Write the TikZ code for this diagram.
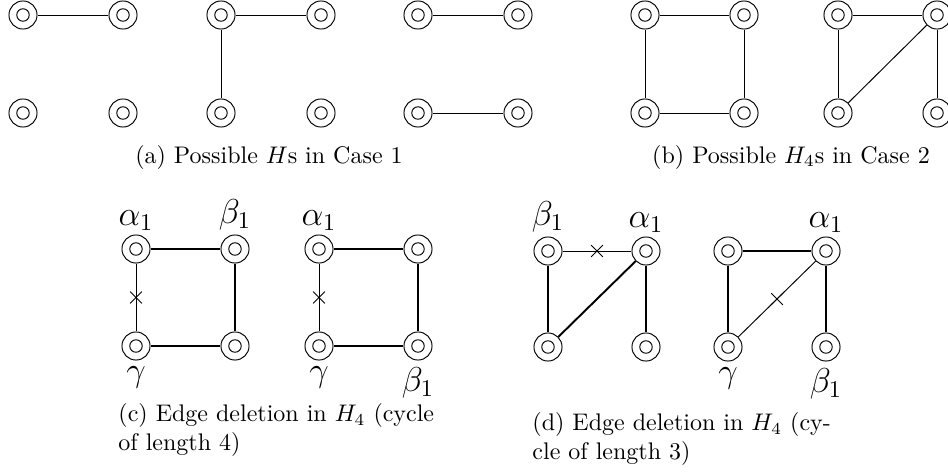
\documentclass[tikz,border=0pt]{standalone}
\usepackage{amsmath}
\usetikzlibrary{positioning, shapes.misc}

\begin{document}
\begin{tikzpicture}[
    x=0.4167pt, y=-0.4167pt,
    vtx/.style={circle, draw, thin, minimum size=11.7pt, inner sep=0pt,
        path picture={\draw[thin] (path picture bounding box.center) circle (2.6pt);}},
    lbl/.style={inner sep=1pt, font=\Large},
    edge/.style={thin},
    keep/.style={line width=0.8pt},
    gone/.style={thin},
    xmark/.style={cross out, draw, thin, minimum size=4.5pt, inner sep=0pt},
    capt/.style={align=left, inner sep=0pt}
]
\useasboundingbox (0,0) rectangle (948,472);

% -------- Y levels --------
\def\ytop{15}
\def\ybot{113}
\def\yctop{249}
\def\ycbot{346}
\def\ydtop{251}
\def\ydbot{347}

% -------- (a) Possible Hs in Case 1 --------
\foreach \g/\x in {1/23,2/221,3/418} {
    \node[vtx] (a\g tl) at (\x,\ytop) {};
    \node[vtx] (a\g tr) at (\x+100,\ytop) {};
    \node[vtx] (a\g bl) at (\x,\ybot) {};
    \node[vtx] (a\g br) at (\x+100,\ybot) {};
}
\draw[edge] (a1tl) -- (a1tr);
\draw[edge] (a2tl) -- (a2tr);
\draw[edge] (a2tl) -- (a2bl);
\draw[edge] (a3tl) -- (a3tr);
\draw[edge] (a3bl) -- (a3br);

\node (capa) at (269,157) {(a) Possible $H$s in Case 1};

% -------- (b) Possible H4s in Case 2 --------
\foreach \g/\x in {1/645,2/838} {
    \node[vtx] (b\g tl) at (\x,\ytop) {};
    \node[vtx] (b\g tr) at (\x+99,\ytop) {};
    \node[vtx] (b\g bl) at (\x,\ybot) {};
    \node[vtx] (b\g br) at (\x+99,\ybot) {};
}
% cycle of length 4
\draw[edge] (b1tl) -- (b1tr) -- (b1br) -- (b1bl) -- (b1tl);
% triangle with pendant
\draw[edge] (b2tl) -- (b2tr);
\draw[edge] (b2tl) -- (b2bl);
\draw[edge] (b2bl) -- (b2tr);
\draw[edge] (b2tr) -- (b2br);

\node (capb) at (791,157) {(b) Possible $H_4$s in Case 2};

% -------- (c) Edge deletion, cycle of length 4 --------
\foreach \g/\x in {1/136,2/319} {
    \node[vtx] (c\g tl) at (\x,\yctop) {};
    \node[vtx] (c\g tr) at (\x+99,\yctop) {};
    \node[vtx] (c\g bl) at (\x,\ycbot) {};
    \node[vtx] (c\g br) at (\x+99,\ycbot) {};
    \draw[keep] (c\g tl) -- (c\g tr) -- (c\g br) -- (c\g bl);
    \draw[gone] (c\g bl) -- node[xmark] (c\g x) {} (c\g tl);
}

\node[lbl, above=0.5pt of c1tl] (c1alpha) {$\alpha_1$};
\node[lbl, above=0.5pt of c1tr] (c1beta) {$\beta_1$};
\node[lbl, below=1.5pt of c1bl] (c1gamma) {$\gamma$};

\node[lbl, above=0.5pt of c2tl] (c2alpha) {$\alpha_1$};
\node[lbl, below=1.5pt of c2bl] (c2gamma) {$\gamma$};
\node[lbl, below=1.5pt of c2br] (c2beta) {$\beta_1$};

\node[capt, anchor=north west] (capc) at (118,403)
    {(c) Edge deletion in $H_4$ (cycle\\of length 4)};

% -------- (d) Edge deletion, cycle of length 3 --------
\foreach \g/\x in {1/548,2/728} {
    \node[vtx] (d\g tl) at (\x,\ydtop) {};
    \node[vtx] (d\g tr) at (\x+98,\ydtop) {};
    \node[vtx] (d\g bl) at (\x,\ydbot) {};
    \node[vtx] (d\g br) at (\x+98,\ydbot) {};
    \draw[keep] (d\g tl) -- (d\g bl);
    \draw[keep] (d\g tr) -- (d\g br);
}
% left copy: top edge removed
\draw[gone] (d1tl) -- node[xmark] (d1x) {} (d1tr);
\draw[keep] (d1bl) -- (d1tr);
% right copy: diagonal removed
\draw[keep] (d2tl) -- (d2tr);
\draw[gone] (d2bl) -- node[xmark] (d2x) {} (d2tr);

\node[lbl, above=0.5pt of d1tl] (d1beta) {$\beta_1$};
\node[lbl, above=0.5pt of d1tr] (d1alpha) {$\alpha_1$};

\node[lbl, above=0.5pt of d2tr] (d2alpha) {$\alpha_1$};
\node[lbl, below=1.5pt of d2bl] (d2gamma) {$\gamma$};
\node[lbl, below=1.5pt of d2br] (d2beta) {$\beta_1$};

\node[capt, anchor=north west] (capd) at (532,412)
    {(d) Edge deletion in $H_4$ (cy-\\cle of length 3)};

\end{tikzpicture}
\end{document}
